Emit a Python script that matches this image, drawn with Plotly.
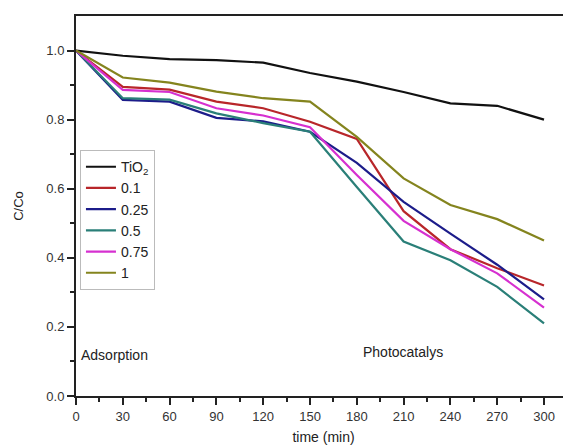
import plotly.graph_objects as go

time_min = [0, 30, 60, 90, 120, 150, 180, 210, 240, 270, 300]
series_names = ["TiO<sub>2</sub>", "0.1", "0.25", "0.5", "0.75", "1"]
tio2 = [1.0, 0.985, 0.975, 0.972, 0.965, 0.935, 0.91, 0.88, 0.847, 0.84, 0.80]
s_01 = [1.0, 0.895, 0.887, 0.852, 0.833, 0.794, 0.744, 0.535, 0.425, 0.37, 0.32]
s_025 = [1.0, 0.857, 0.852, 0.805, 0.795, 0.765, 0.675, 0.562, 0.47, 0.38, 0.28]
s_05 = [1.0, 0.862, 0.858, 0.818, 0.79, 0.765, 0.605, 0.447, 0.393, 0.316, 0.21]
s_075 = [1.0, 0.886, 0.88, 0.833, 0.812, 0.778, 0.64, 0.507, 0.425, 0.355, 0.256]
s_1 = [1.0, 0.922, 0.907, 0.881, 0.862, 0.852, 0.75, 0.63, 0.553, 0.512, 0.45]
colors = ["#111111", "#b8262a", "#1c1c8a", "#2a7f78", "#d630d0", "#84841e"]

all_series = [tio2, s_01, s_025, s_05, s_075, s_1]

fig = go.Figure()
for i, (name, vals) in enumerate(zip(series_names, all_series)):
    fig.add_trace(go.Scatter(
        x=time_min, y=vals, mode="lines", name=name,
        line=dict(color=colors[i], width=2.2),
        legendgroup="g%d" % i,
    ))

font_family = "Liberation Sans, Arial, sans-serif"

fig.update_layout(
    width=563, height=440,
    margin=dict(l=68, r=0, t=8, b=52),
    paper_bgcolor="white", plot_bgcolor="white",
    font=dict(family=font_family, color="#222", size=13),
    showlegend=True,
    legend=dict(
        x=0.008, y=0.647, xanchor="left", yanchor="top",
        bgcolor="rgba(255,255,255,0.9)", bordercolor="#bbbbbb", borderwidth=1,
        font=dict(size=14, family=font_family, color="#222"),
        tracegroupgap=0,
    ),
    xaxis=dict(
        range=[0, 317.3], tickmode="array",
        tickvals=[0, 30, 60, 90, 120, 150, 180, 210, 240, 270, 300],
        ticks="outside", ticklen=7, tickwidth=2, tickcolor="#222",
        showline=True, linecolor="#222", linewidth=2, mirror=True,
        showgrid=False, zeroline=False,
        minor=dict(dtick=15, ticks="outside", ticklen=4, tickwidth=2, tickcolor="#222", showgrid=False),
        title=dict(text="time (min)", font=dict(size=14), standoff=10),
        tickfont=dict(size=13, color="#333"),
    ),
    yaxis=dict(
        range=[0, 1.1], tickmode="array",
        tickvals=[0.0, 0.2, 0.4, 0.6, 0.8, 1.0],
        ticktext=["0.0", "0.2", "0.4", "0.6", "0.8", "1.0"],
        ticks="outside", ticklen=7, tickwidth=2, tickcolor="#222",
        showline=True, linecolor="#222", linewidth=2, mirror=False,
        showgrid=False, zeroline=False,
        minor=dict(tickvals=[0.1, 0.3, 0.5, 0.7, 0.9], ticks="outside", ticklen=4, tickwidth=2, tickcolor="#222", showgrid=False),
        title=dict(text="C/Co", font=dict(size=13), standoff=20),
        tickfont=dict(size=13, color="#333"),
    ),
    annotations=[
        dict(text="Adsorption", x=2, y=0.12, xref="x", yref="y", xanchor="left",
             yanchor="middle", showarrow=False, font=dict(size=14, color="#222")),
        dict(text="Photocatalys", x=183, y=0.127, xref="x", yref="y", xanchor="left",
             yanchor="middle", showarrow=False, font=dict(size=14, color="#222")),
    ],
)

fig.write_html("out.html")
